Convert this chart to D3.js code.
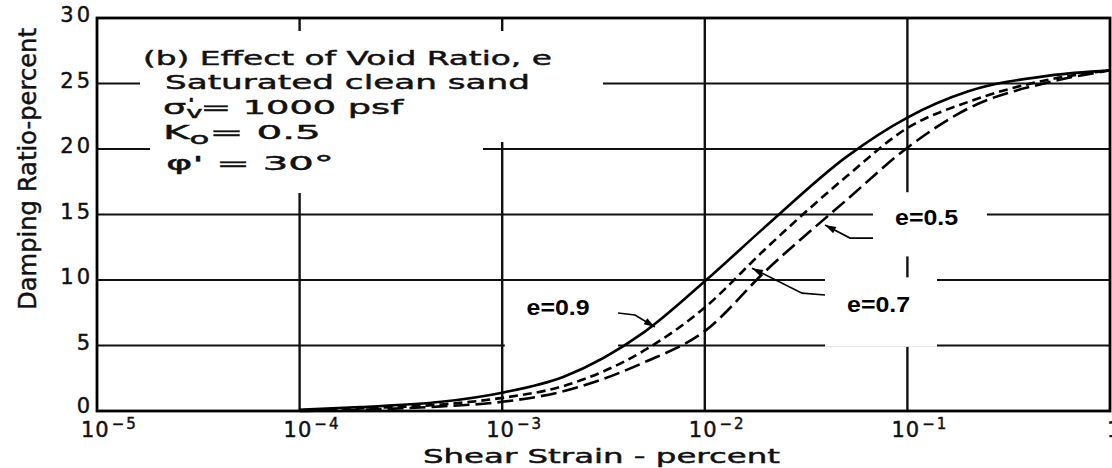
<!DOCTYPE html>
<html>
<head>
<meta charset="utf-8">
<script src="https://cdn.jsdelivr.net/npm/d3@7/dist/d3.min.js"></script>
<style>
  html, body { margin: 0; padding: 0; background: #fff; }
  svg { display: block; }
  .lbl { font-family: "DejaVu Sans", sans-serif; fill: #111; stroke: #111; stroke-width: 0.45; }
  .tag { font-family: "Liberation Sans", Arial, sans-serif; font-weight: bold; fill: #000; }
</style>
</head>
<body>
<svg id="chart"></svg>
<script>
// shear strain (percent) where the curves were read
const strain = [1e-4, 2e-4, 5e-4, 1e-3, 2e-3, 5e-3, 1e-2, 2e-2, 5e-2, 1e-1, 2e-1, 5e-1, 1];
// damping ratio (percent) for each void ratio
const dampE09 = [0.1, 0.3, 0.7, 1.4, 2.6, 6.0, 9.9, 14.1, 19.4, 22.4, 24.4, 25.6, 26.0];
const dampE07 = [0.05, 0.2, 0.5, 1.0, 1.9, 4.6, 7.9, 12.4, 17.9, 21.6, 23.6, 25.3, 26.0];
const dampE05 = [0.0, 0.1, 0.35, 0.7, 1.5, 3.7, 6.1, 10.7, 16.1, 20.1, 23.1, 25.1, 26.0];

const yTicks = [0, 5, 10, 15, 20, 25, 30];
const xTicks = [1e-5, 1e-4, 1e-3, 1e-2, 1e-1, 1];
const xTickExp = ["-5", "-4", "-3", "-2", "-1", ""];

const notes = ["(b) Effect of Void Ratio, e", "Saturated clean sand"];

// squeeze/stretch a text horizontally so it spans w pixels
function fitWidth(g, w) {
    const t = g.select('text');
    const bw = t.node().getBBox().width;
    const tr = g.attr('data-pos');
    g.attr('transform', tr + ' scale(' + (w / bw) + ',1)');
}

function drawChart() {
    const width = 1112;
    const height = 468;
    const svg = d3.select('#chart').attr('width', width).attr('height', height);

    const x = d3.scaleLog().domain([1e-5, 1]).range([97, 1110]);
    const y = d3.scaleLinear().domain([0, 30]).range([411, 18]);

    // grid
    const grid = svg.append('g').attr('stroke', '#111').attr('stroke-width', 1.8);
    grid.selectAll('line.h')
        .data(yTicks.slice(1, -1))
        .enter()
        .append('line')
        .attr('x1', x(1e-5)).attr('x2', x(1))
        .attr('y1', function (d) { return y(d); })
        .attr('y2', function (d) { return y(d); });
    grid.selectAll('line.v')
        .data(xTicks.slice(1, -1))
        .enter()
        .append('line')
        .attr('y1', y(30)).attr('y2', y(0))
        .attr('x1', function (d) { return x(d); })
        .attr('x2', function (d) { return x(d); })
        .attr('stroke-width', 2.4);

    // blank area behind the note block (grid is broken there)
    const masks = [
        [140, 31, 603, 100],
        [150, 100, 483, 193],
        [480, 100, 520, 142]
    ];
    svg.selectAll('rect.mask')
        .data(masks)
        .enter()
        .append('rect')
        .attr('x', function (d) { return d[0]; })
        .attr('y', function (d) { return d[1]; })
        .attr('width', function (d) { return d[2] - d[0]; })
        .attr('height', function (d) { return d[3] - d[1]; })
        .attr('fill', '#fff');

    // label boxes, leaders and arrow tips, in data units
    const tags = [
        { t: 'e=0.5', x0: 0.0676, x1: 0.247, y0: 16.7, y1: 11.8, tx: 0.0869, ty: 14.2,
          lead: [[0.0676, 13.2], [0.0521, 13.2]], tip: [0.0392, 14.2] },
        { t: 'e=0.7', x0: 0.0392, x1: 0.140, y0: 10.2, y1: 4.9, tx: 0.0504, ty: 7.56,
          lead: [[0.0392, 8.85], [0.0302, 9.0]], tip: [0.0171, 10.9] },
        { t: 'e=0.9', x0: 1.03e-3, x1: 3.73e-3, y0: 9.77, y1: 4.66, tx: 1.32e-3, ty: 7.33,
          lead: [[3.73e-3, 7.48], [4.52e-3, 7.33]], tip: [5.67e-3, 6.41] }
    ];
    svg.selectAll('rect.box')
        .data(tags)
        .enter()
        .append('rect')
        .attr('x', function (d) { return x(d.x0); })
        .attr('y', function (d) { return y(d.y0); })
        .attr('width', function (d) { return x(d.x1) - x(d.x0); })
        .attr('height', function (d) { return y(d.y1) - y(d.y0); })
        .attr('fill', '#fff');

    // curves
    const series = [
        { v: dampE09, dash: null },
        { v: dampE07, dash: '9,5' },
        { v: dampE05, dash: '16,6' }
    ];
    const line = d3.line()
        .x(function (d) { return x(d[0]); })
        .y(function (d) { return y(d[1]); })
        .curve(d3.curveMonotoneX);
    svg.selectAll('path.curve')
        .data(series)
        .enter()
        .append('path')
        .attr('d', function (s) { return line(strain.map(function (e, i) { return [e, s.v[i]]; })); })
        .attr('fill', 'none')
        .attr('stroke', '#000')
        .attr('stroke-width', 2.6)
        .attr('stroke-dasharray', function (s) { return s.dash; });

    // frame
    svg.append('rect')
        .attr('x', x(1e-5)).attr('y', y(30))
        .attr('width', x(1) - x(1e-5)).attr('height', y(0) - y(30))
        .attr('fill', 'none').attr('stroke', '#000').attr('stroke-width', 2.8);

    // leaders + arrowheads
    tags.forEach(function (d) {
        const pts = d.lead.concat([d.tip]).map(function (p) { return [x(p[0]), y(p[1])]; });
        svg.append('path')
            .attr('d', d3.line()(pts))
            .attr('fill', 'none').attr('stroke', '#000').attr('stroke-width', 1.6);
        const a = pts[pts.length - 1], b = pts[pts.length - 2];
        const ang = Math.atan2(a[1] - b[1], a[0] - b[0]);
        const L = 11, W = 3.5;
        const bx = a[0] - L * Math.cos(ang), by = a[1] - L * Math.sin(ang);
        svg.append('path')
            .attr('d', 'M' + a[0] + ',' + a[1] +
                'L' + (bx + W * Math.sin(ang)) + ',' + (by - W * Math.cos(ang)) +
                'L' + (bx - W * Math.sin(ang)) + ',' + (by + W * Math.cos(ang)) + 'Z')
            .attr('fill', '#000');
        svg.append('text')
            .attr('class', 'tag')
            .attr('x', x(d.tx)).attr('y', y(d.ty))
            .attr('font-size', 22)
            .attr('textLength', 63).attr('lengthAdjust', 'spacingAndGlyphs')
            .text(d.t);
    });

    // y tick labels
    svg.selectAll('text.yt')
        .data(yTicks)
        .enter()
        .append('text')
        .attr('class', 'lbl')
        .attr('x', 93)
        .attr('y', function (d) { return y(d) + (d === 0 ? 2 : 4); })
        .attr('text-anchor', 'end')
        .attr('font-size', 21)
        .attr('letter-spacing', 3)
        .text(function (d) { return d; });

    // x tick labels
    const xt = svg.selectAll('text.xt')
        .data(xTicks)
        .enter()
        .append('text')
        .attr('class', 'lbl')
        .attr('font-size', 21)
        .attr('x', function (d, i) { return i === xTicks.length - 1 ? x(d) - 3 : x(d) - 16; })
        .attr('y', 437);
    xt.append('tspan')
        .attr('letter-spacing', 1)
        .text(function (d, i) { return i === xTicks.length - 1 ? '1' : '10'; });
    xt.append('tspan')
        .attr('dx', 2).attr('dy', -8)
        .attr('font-size', 15)
        .attr('letter-spacing', 2)
        .text(function (d, i) { return xTickExp[i].replace('-', '\u2212'); });

    // axis titles
    svg.append('text')
        .attr('class', 'lbl')
        .attr('x', 423).attr('y', 463)
        .attr('font-size', 20)
        .attr('textLength', 357).attr('lengthAdjust', 'spacingAndGlyphs')
        .text('Shear Strain - percent');
    svg.append('text')
        .attr('class', 'lbl')
        .attr('transform', 'translate(36,169) rotate(-90)')
        .attr('text-anchor', 'middle')
        .attr('font-size', 25)
        .attr('textLength', 282).attr('lengthAdjust', 'spacingAndGlyphs')
        .text('Damping Ratio-percent');

    // note block
    const rows = [];
    function noteRow(px, py, w) {
        const g = svg.append('g').attr('data-pos', 'translate(' + px + ',' + py + ')');
        const t = g.append('text').attr('class', 'lbl').attr('font-size', 20);
        rows.push([g, w]);
        return t;
    }
    noteRow(143, 65, 409).text(notes[0]);
    noteRow(165, 89, 365).text(notes[1]);

    const sig = noteRow(163, 114, 242);
    sig.append('tspan').text('\u03C3');
    sig.append('tspan').attr('dy', 4).attr('font-size', 15).text('v');
    sig.append('tspan').attr('dx', -8).attr('dy', -10).attr('font-size', 14).text('\'');
    sig.append('tspan').attr('dy', 6).attr('dx', 3).text('= 1000 psf');

    const ko = noteRow(163, 139, 158);
    ko.append('tspan').text('K');
    ko.append('tspan').attr('dy', 5).attr('font-size', 16).text('o');
    ko.append('tspan').attr('dy', -5).text('= 0.5');

    noteRow(166, 170, 168).text('\u03C6\' = 30\u00B0');

    rows.forEach(function (r) { fitWidth(r[0], r[1]); });
}

drawChart();
</script>
</body>
</html>
